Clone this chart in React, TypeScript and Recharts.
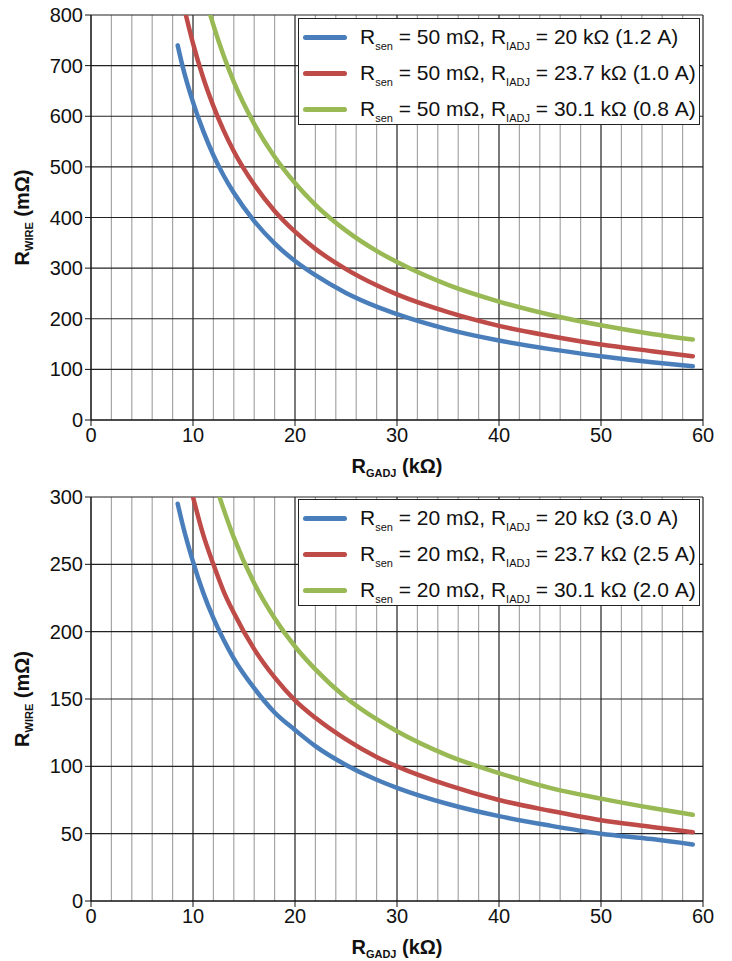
import React from "react";
import { LineChart, Line, XAxis, YAxis, ReferenceLine, Label } from "recharts";

// ---------- data ----------
const xTicks = [0, 10, 20, 30, 40, 50, 60];
const xMinor = [2, 4, 6, 8, 12, 14, 16, 18, 22, 24, 26, 28, 32, 34, 36, 38, 42, 44, 46, 48, 52, 54, 56, 58];
const yTicksTop = [0, 100, 200, 300, 400, 500, 600, 700, 800];
const yTicksBottom = [0, 50, 100, 150, 200, 250, 300];

const topBlue = [
  [8.5, 740], [9, 697], [10, 628], [11, 571], [12, 523], [13, 483], [14, 449], [16, 393], [18, 349],
  [20, 314], [22, 286], [25, 251], [28, 224], [30, 209], [35, 179], [40, 157], [45, 140], [50, 126], [55, 114], [59, 106],
];
const topRed = [
  [9.3, 800], [10, 744], [11, 676], [12, 620], [13, 572], [14, 531], [16, 465], [18, 413], [20, 372],
  [22, 338], [25, 298], [28, 266], [30, 248], [35, 213], [40, 186], [45, 166], [50, 149], [55, 136], [59, 126],
];
const topGreen = [
  [11.7, 800], [12, 780], [13, 720], [14, 668], [16, 585], [18, 520], [20, 468], [22, 425], [25, 374],
  [28, 334], [30, 312], [35, 267], [40, 234], [45, 208], [50, 187], [55, 170], [59, 159],
];

const bottomBlue = [
  [8.5, 295], [9, 279], [10, 252], [11, 229], [12, 210], [13, 194], [14, 180], [16, 158], [18, 140],
  [20, 127], [22, 115], [25, 101], [28, 90], [30, 84], [35, 72], [40, 63], [45, 56], [50, 50], [55, 46], [59, 42],
];
const bottomRed = [
  [10, 300], [11, 272], [12, 250], [13, 230], [14, 214], [16, 187], [18, 166], [20, 149], [22, 136],
  [25, 120], [28, 107], [30, 100], [35, 86], [40, 75], [45, 67], [50, 60], [55, 55], [59, 51],
];
const bottomGreen = [
  [12.6, 300], [13, 291], [14, 270], [16, 236], [18, 210], [20, 189], [22, 172], [25, 151], [28, 135],
  [30, 126], [35, 108], [40, 95], [45, 84], [50, 76], [55, 69], [59, 64],
];

const topLegend = [
  { rsen: "50 mΩ", riadj: "20 kΩ", amp: "(1.2 A)" },
  { rsen: "50 mΩ", riadj: "23.7 kΩ", amp: "(1.0 A)" },
  { rsen: "50 mΩ", riadj: "30.1 kΩ", amp: "(0.8 A)" },
];
const bottomLegend = [
  { rsen: "20 mΩ", riadj: "20 kΩ", amp: "(3.0 A)" },
  { rsen: "20 mΩ", riadj: "23.7 kΩ", amp: "(2.5 A)" },
  { rsen: "20 mΩ", riadj: "30.1 kΩ", amp: "(2.0 A)" },
];

const COLORS = ["#4a7ebb", "#be4b48", "#98b954"];
const FONT = "Arial, 'Liberation Sans', sans-serif";

const toPts = (arr: number[][]) => arr.map(([x, y]) => ({ x, y }));

function LegendBox({ items, left, top }: { items: typeof topLegend; left: number; top: number }) {
  return (
    <div
      style={{
        position: "absolute",
        left,
        top,
        width: 402,
        height: 107,
        border: "1.3px solid #222",
        background: "#fff",
        fontFamily: FONT,
        fontSize: 21,
        color: "#111",
        boxSizing: "border-box",
      }}
    >
      {items.map((it, i) => (
        <div key={i} style={{ position: "absolute", left: 4, top: 4 + i * 36, height: 28, display: "flex", alignItems: "center", whiteSpace: "nowrap" }}>
          <div style={{ width: 44, height: 5, borderRadius: 3, background: COLORS[i], marginRight: 13 }} />
          <span>
            R<span style={{ fontSize: 11, position: "relative", top: 6 }}>sen</span> = {it.rsen}, R
            <span style={{ fontSize: 11, position: "relative", top: 6 }}>IADJ</span> = {it.riadj} {it.amp}
          </span>
        </div>
      ))}
    </div>
  );
}

function XTitle(props: any) {
  const vb = props.viewBox || {};
  const cx = vb.x + vb.width / 2;
  const y = vb.y + 53;
  return (
    <text x={cx} y={y} textAnchor="middle" fontFamily={FONT} fontWeight="bold" fontSize={20} fill="#111">
      <tspan>R</tspan>
      <tspan fontSize={11} dy={4}>GADJ</tspan>
      <tspan dy={-4}> (kΩ)</tspan>
    </text>
  );
}

function YTitle(props: any) {
  const vb = props.viewBox || {};
  const cy = vb.y + vb.height / 2;
  const x = 29;
  return (
    <text x={x} y={cy} textAnchor="middle" transform={`rotate(-90, ${x}, ${cy})`} fontFamily={FONT} fontWeight="bold" fontSize={20} fill="#111">
      <tspan>R</tspan>
      <tspan fontSize={11} dy={4}>WIRE</tspan>
      <tspan dy={-4}> (mΩ)</tspan>
    </text>
  );
}

function Panel({
  series,
  yTicks,
  yMax,
  legend,
  height,
  top,
  legendTop,
}: {
  series: number[][][];
  yTicks: number[];
  yMax: number;
  legend: typeof topLegend;
  height: number;
  top: number;
  legendTop: number;
}) {
  const tickStyle = { fontFamily: FONT, fontSize: 20, fill: "#111" };
  return (
    <div style={{ position: "relative", width: 732, height }}>
      <LineChart width={732} height={height} margin={{ top, right: 29, left: 0, bottom: 0 }}>
        <XAxis
          type="number"
          dataKey="x"
          domain={[0, 60]}
          ticks={xTicks}
          tick={tickStyle}
          tickLine={{ stroke: "#111" }}
          tickSize={6}
          axisLine={{ stroke: "#111", strokeWidth: 1.5 }}
          height={60}
          allowDataOverflow
        >
          <Label content={<XTitle />} />
        </XAxis>
        <YAxis
          type="number"
          dataKey="y"
          domain={[0, yMax]}
          ticks={yTicks}
          tick={tickStyle}
          tickLine={{ stroke: "#111" }}
          tickSize={6}
          axisLine={{ stroke: "#111", strokeWidth: 1.5 }}
          width={91}
          allowDataOverflow
        >
          <Label content={<YTitle />} />
        </YAxis>
        {xMinor.map((v) => (
          <ReferenceLine key={"m" + v} x={v} stroke="#a6a6a6" strokeWidth={1.2} />
        ))}
        {yTicks.filter((v) => v > 0).map((v) => (
          <ReferenceLine key={"h" + v} y={v} stroke="#222" strokeWidth={1.2} />
        ))}
        {xTicks.filter((v) => v > 0).map((v) => (
          <ReferenceLine key={"v" + v} x={v} stroke="#222" strokeWidth={1.2} />
        ))}
        {series.map((s, i) => (
          <Line
            key={i}
            data={toPts(s)}
            dataKey="y"
            type="monotone"
            stroke={COLORS[i]}
            strokeWidth={4.5}
            strokeLinecap="round"
            dot={false}
            activeDot={false}
            isAnimationActive={false}
          />
        ))}
      </LineChart>
      <LegendBox items={legend} left={298} top={legendTop} />
    </div>
  );
}

export default function App() {
  return (
    <div style={{ margin: "-8px 0 0 -8px", width: 732, height: 961, background: "#fff" }}>
      <Panel series={[topBlue, topRed, topGreen]} yTicks={yTicksTop} yMax={800} legend={topLegend} height={480} top={15} legendTop={18} />
      <Panel series={[bottomBlue, bottomRed, bottomGreen]} yTicks={yTicksBottom} yMax={300} legend={bottomLegend} height={481} top={17} legendTop={19} />
    </div>
  );
}
